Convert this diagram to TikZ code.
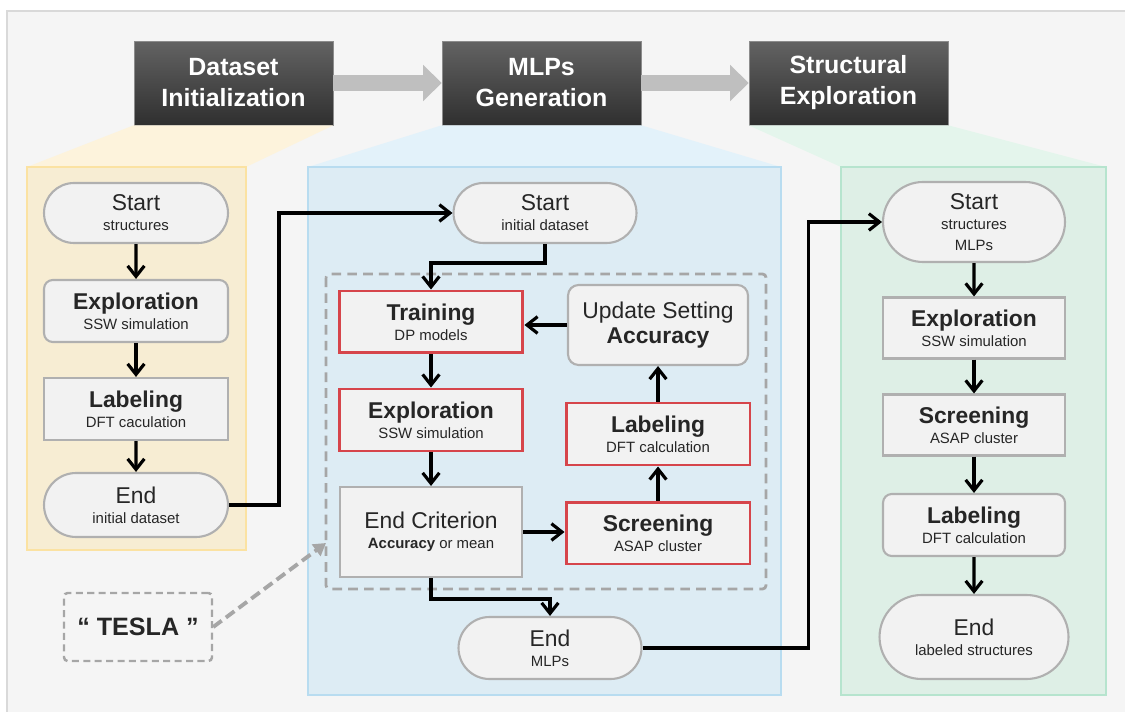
\documentclass[tikz,border=0pt]{standalone}
\usepackage{fontspec}
\setmainfont{Liberation Sans}
\usetikzlibrary{arrows.meta, shapes.misc, positioning}

\definecolor{bggray}{HTML}{F5F5F5}
\definecolor{bgline}{HTML}{D9D9D9}
\definecolor{nodefill}{HTML}{F2F2F2}
\definecolor{nodeline}{HTML}{B0B0B0}
\definecolor{redline}{HTML}{D6454B}
\definecolor{textdark}{HTML}{262626}
\definecolor{dashgray}{HTML}{A6A6A6}
\definecolor{arrowgray}{HTML}{BFBFBF}
\definecolor{titletop}{HTML}{636363}
\definecolor{titlebot}{HTML}{2F2F2F}
\definecolor{yfill}{HTML}{F7EDD3}
\definecolor{yline}{HTML}{FBE2A2}
\definecolor{ytrap}{HTML}{FDF3DC}
\definecolor{bfill}{HTML}{DDECF4}
\definecolor{bline}{HTML}{B8DCF0}
\definecolor{btrap}{HTML}{E3F2FA}
\definecolor{gfill}{HTML}{DEEFE6}
\definecolor{gline}{HTML}{B6E4CE}
\definecolor{gtrap}{HTML}{E4F5EC}

\newcommand{\mainfs}{\fontsize{13}{15}\selectfont}
\newcommand{\subfs}{\fontsize{8.5}{11.5}\selectfont}

\tikzset{
  termnode/.style={rounded rectangle, draw=nodeline, fill=nodefill, line width=1.2pt,
    text=textdark, align=center, font=\subfs, inner sep=0pt},
  boxnode/.style={rectangle, draw=nodeline, fill=nodefill, line width=1.2pt,
    text=textdark, align=center, font=\subfs, inner sep=0pt},
  rednode/.style={boxnode, draw=redline, line width=1.7pt},
  titlebox/.style={rectangle, draw=gray!90, top color=titletop, bottom color=titlebot,
    text=white, font=\fontsize{14.2}{17.6}\selectfont\bfseries, align=center,
    minimum width=3.98cm, minimum height=1.68cm},
  flow/.style={line width=1.8pt, -{Straight Barb[length=6pt,width=9.5pt]}},
  stagearrow/.style={draw=arrowgray, line width=9.6pt, -{Triangle[length=10.5pt,width=20pt]}},
}

\begin{document}
\begin{tikzpicture}[x=0.02cm, y=-0.02cm]
\useasboundingbox (0,0) rectangle (1125,712);
%% background
\fill[bggray] (7,11) rectangle (1125,712);
\draw[bgline, line width=0.8pt] (7,712) -- (7,11) -- (1125,11);

%% stage titles
\node[titlebox] (t1) at (233.5,83) {Dataset\\Initialization};
\node[titlebox] (t2) at (541.5,83) {MLPs\\Generation};
\node[titlebox] (t3) at (848.5,83) {Structural\\Exploration};
\draw[stagearrow] (t1.east) -- (t2.west);
\draw[stagearrow] (t2.east) -- (t3.west);

%% panels
\fill[ytrap] (t1.south west) -- (t1.south east) -- (246,167) -- (27,167) -- cycle;
\fill[btrap] (t2.south west) -- (t2.south east) -- (781,167) -- (308,167) -- cycle;
\fill[gtrap] (t3.south west) -- (t3.south east) -- (1106,167) -- (841,167) -- cycle;
\filldraw[fill=yfill, draw=yline, line width=0.8pt] (27,167) rectangle (246,550);
\filldraw[fill=bfill, draw=bline, line width=0.8pt] (308,167) rectangle (781,695);
\filldraw[fill=gfill, draw=gline, line width=0.8pt] (841,167) rectangle (1106,695);

%% dataset initialization
\node[termnode, minimum width=3.68cm, minimum height=1.2cm] (s1) at (136,213) {{\mainfs Start}\\structures};
\node[boxnode, rounded corners=5pt, minimum width=3.68cm, minimum height=1.24cm] (e1) at (136,311) {{\mainfs\bfseries Exploration}\\SSW simulation};
\node[boxnode, minimum width=3.68cm, minimum height=1.24cm] (l1) at (136,409) {{\mainfs\bfseries Labeling}\\DFT caculation};
\node[termnode, minimum width=3.68cm, minimum height=1.28cm] (n1) at (136,505) {{\mainfs End}\\initial dataset};
\draw[flow] (s1) -- (e1);
\draw[flow] (e1) -- (l1);
\draw[flow] (l1) -- (n1);

%% MLPs generation
\draw[dashgray, line width=1.6pt, dash pattern=on 5.5pt off 3.5pt, rounded corners=2pt] (326,274) rectangle (766,589);
\node[termnode, minimum width=3.66cm, minimum height=1.2cm] (s2) at (545,213) {{\mainfs Start}\\initial dataset};
\node[rednode, minimum width=3.68cm, minimum height=1.24cm] (tr) at (431,322) {{\mainfs\bfseries Training}\\DP models};
\node[rednode, minimum width=3.68cm, minimum height=1.24cm] (ex2) at (431,420) {{\mainfs\bfseries Exploration}\\SSW simulation};
\node[boxnode, minimum width=3.64cm, minimum height=1.8cm] (ec) at (431,532) {{\mainfs End Criterion}\\\textbf{Accuracy} or mean};
\node[boxnode, rounded corners=6pt, minimum width=3.6cm, minimum height=1.6cm, font=\fontsize{13}{14.5}\selectfont] (up) at (658,325) {Update Setting\\\textbf{Accuracy}};
\node[rednode, minimum width=3.68cm, minimum height=1.24cm] (lb2) at (658,434) {{\mainfs\bfseries Labeling}\\DFT calculation};
\node[rednode, minimum width=3.68cm, minimum height=1.24cm] (sc) at (658,533) {{\mainfs\bfseries Screening}\\ASAP cluster};
\node[termnode, minimum width=3.66cm, minimum height=1.24cm] (n2) at (550,648) {{\mainfs End}\\MLPs};
\draw[flow] (n1.east) -- ++(50,0) |- (s2.west);
\draw[flow] (s2.south) -- ++(0,19) -| (tr.north);
\draw[flow] (up.west) -- (up.west -| tr.east);
\draw[flow] (tr) -- (ex2);
\draw[flow] (ex2) -- (ec);
\draw[flow] (ec.east) -- (ec.east -| sc.west);
\draw[flow] (sc) -- (lb2);
\draw[flow] (lb2) -- (up);
\draw[flow] (ec.south) -- ++(0,21) -| (n2.north);

%% structural exploration
\node[termnode, minimum width=3.64cm, minimum height=1.6cm] (s3) at (974,222) {{\mainfs Start}\\structures\\MLPs};
\node[boxnode, minimum width=3.64cm, minimum height=1.22cm] (ex3) at (974,328) {{\mainfs\bfseries Exploration}\\SSW simulation};
\node[boxnode, minimum width=3.64cm, minimum height=1.22cm] (sc3) at (974,425) {{\mainfs\bfseries Screening}\\ASAP cluster};
\node[boxnode, rounded corners=5pt, minimum width=3.64cm, minimum height=1.24cm] (lb3) at (974,525) {{\mainfs\bfseries Labeling}\\DFT calculation};
\node[termnode, minimum width=3.78cm, minimum height=1.68cm] (n3) at (974,637) {{\mainfs End}\\labeled structures};
\draw[flow] (n2.east) -- ++(166,0) |- (s3.west);
\draw[flow] (s3) -- (ex3);
\draw[flow] (ex3) -- (sc3);
\draw[flow] (sc3) -- (lb3);
\draw[flow] (lb3) -- (n3);

%% TESLA
\node[draw=dashgray, line width=1.4pt, dash pattern=on 4pt off 2.5pt, rounded corners=2pt,
  minimum width=2.96cm, minimum height=1.36cm, text=textdark,
  font=\fontsize{14.3}{16}\selectfont\bfseries] (tesla) at (138,627) {“ TESLA ”};
\coordinate (tslend) at (326,543);
\draw[dashgray, line width=2.2pt, dash pattern=on 6pt off 3pt, -{Triangle[length=7pt,width=8pt]}] (tesla.east) -- (tslend);
\end{tikzpicture}
\end{document}
